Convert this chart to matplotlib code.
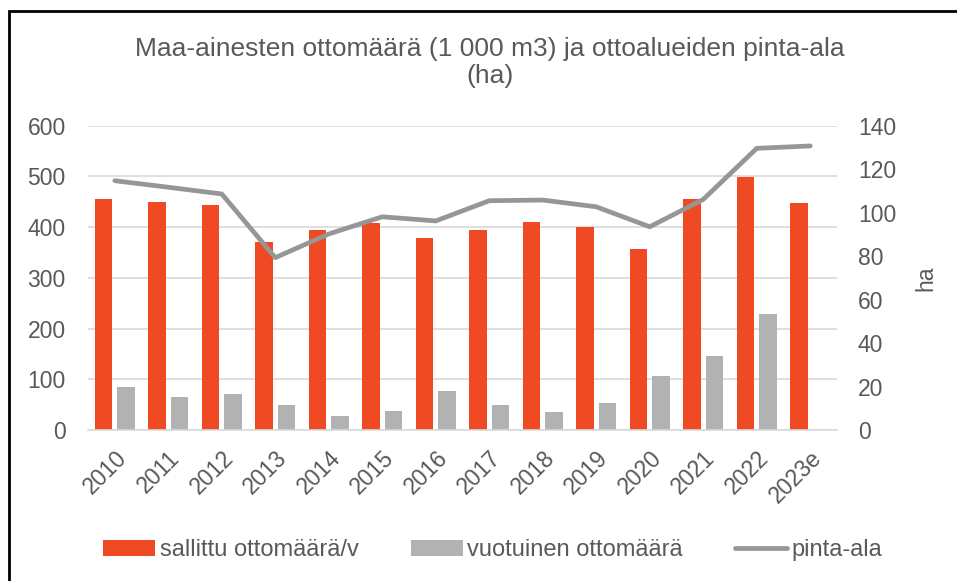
import matplotlib.pyplot as plt
from matplotlib.patches import Rectangle
import numpy as np

plt.rcParams['font.family'] = ['Liberation Sans', 'DejaVu Sans']

years = ['2010', '2011', '2012', '2013', '2014', '2015', '2016',
         '2017', '2018', '2019', '2020', '2021', '2022', '2023e']
sallittu = [455, 450, 444, 370, 394, 409, 378, 394, 411, 400, 356, 456, 498, 448]
vuotuinen = [85, 66, 70, 49, 28, 38, 77, 50, 35, 54, 107, 145, 229, 0]
pinta_ala = [114.7, 111.7, 108.6, 79.3, 90.2, 98.1, 96.2, 105.5, 105.8, 102.7, 93.5, 106.1, 129.6, 130.7]

RED = '#EF4A23'
BAR_GRAY = '#B2B2B2'
LINE_GRAY = '#969696'
TEXT = '#595959'
GRID = '#D9D9D9'

fig = plt.figure(figsize=(9.57, 5.81), dpi=100)
ax = fig.add_axes([0.092, 0.2599, 0.7826, 0.5237])
ax2 = ax.twinx()

x = np.arange(len(years))
w = 0.33
ax.bar(x - 0.21, sallittu, w, color=RED, label='sallittu ottomäärä/v', zorder=2)
# 2023e has no annual figure yet
vuot = [v if v > 0 else np.nan for v in vuotuinen]
ax.bar(x + 0.21, vuot, w, color=BAR_GRAY, label='vuotuinen ottomäärä', zorder=2)
ax2.plot(x, pinta_ala, color=LINE_GRAY, lw=3.4, solid_capstyle='round',
         label='pinta-ala', zorder=3)

ax.set_xlim(-0.5, len(years) - 0.5)
ax.set_ylim(0, 600)
ax.set_yticks(range(0, 601, 100))
ax2.set_ylim(0, 140)
ax2.set_yticks(range(0, 141, 20))

ax.grid(axis='y', color=GRID, lw=1.2, zorder=0)
ax.set_axisbelow(True)
for a in (ax, ax2):
    for s in a.spines.values():
        s.set_visible(False)
ax.spines['bottom'].set_visible(True)
ax.spines['bottom'].set_color(GRID)
ax.spines['bottom'].set_linewidth(1.2)

ax.tick_params(axis='y', length=0, pad=16, labelsize=16.5, labelcolor=TEXT)
ax2.tick_params(axis='y', length=0, pad=15, labelsize=16.5, labelcolor=TEXT)
ax.set_xticks(x)
ax.set_xticklabels(years, rotation=45, ha='right', rotation_mode='anchor')
ax.tick_params(axis='x', length=0, pad=12, labelsize=16.5, labelcolor=TEXT)
ax2.set_ylabel('ha', fontsize=16.5, color=TEXT, labelpad=13)

fig.text(0.512, 0.892, 'Maa-ainesten ottomäärä (1 000 m3) ja ottoalueiden pinta-ala\n(ha)',
         ha='center', va='center', fontsize=19, color=TEXT, linespacing=1.15)

h1, l1 = ax.get_legend_handles_labels()
h2, l2 = ax2.get_legend_handles_labels()
fig.legend(h1 + h2, l1 + l2, loc='center', bbox_to_anchor=(0.515, 0.053), ncol=3,
           frameon=False, fontsize=17, labelcolor=TEXT, handlelength=2.2,
           handletextpad=0.2, columnspacing=2.2)

fig.patches.append(Rectangle((9 / 957, -0.1), 1.2, 1 - 11 / 581 + 0.1,
                             transform=fig.transFigure, fill=False,
                             edgecolor='black', lw=2))

plt.savefig('out.png', dpi=100)
